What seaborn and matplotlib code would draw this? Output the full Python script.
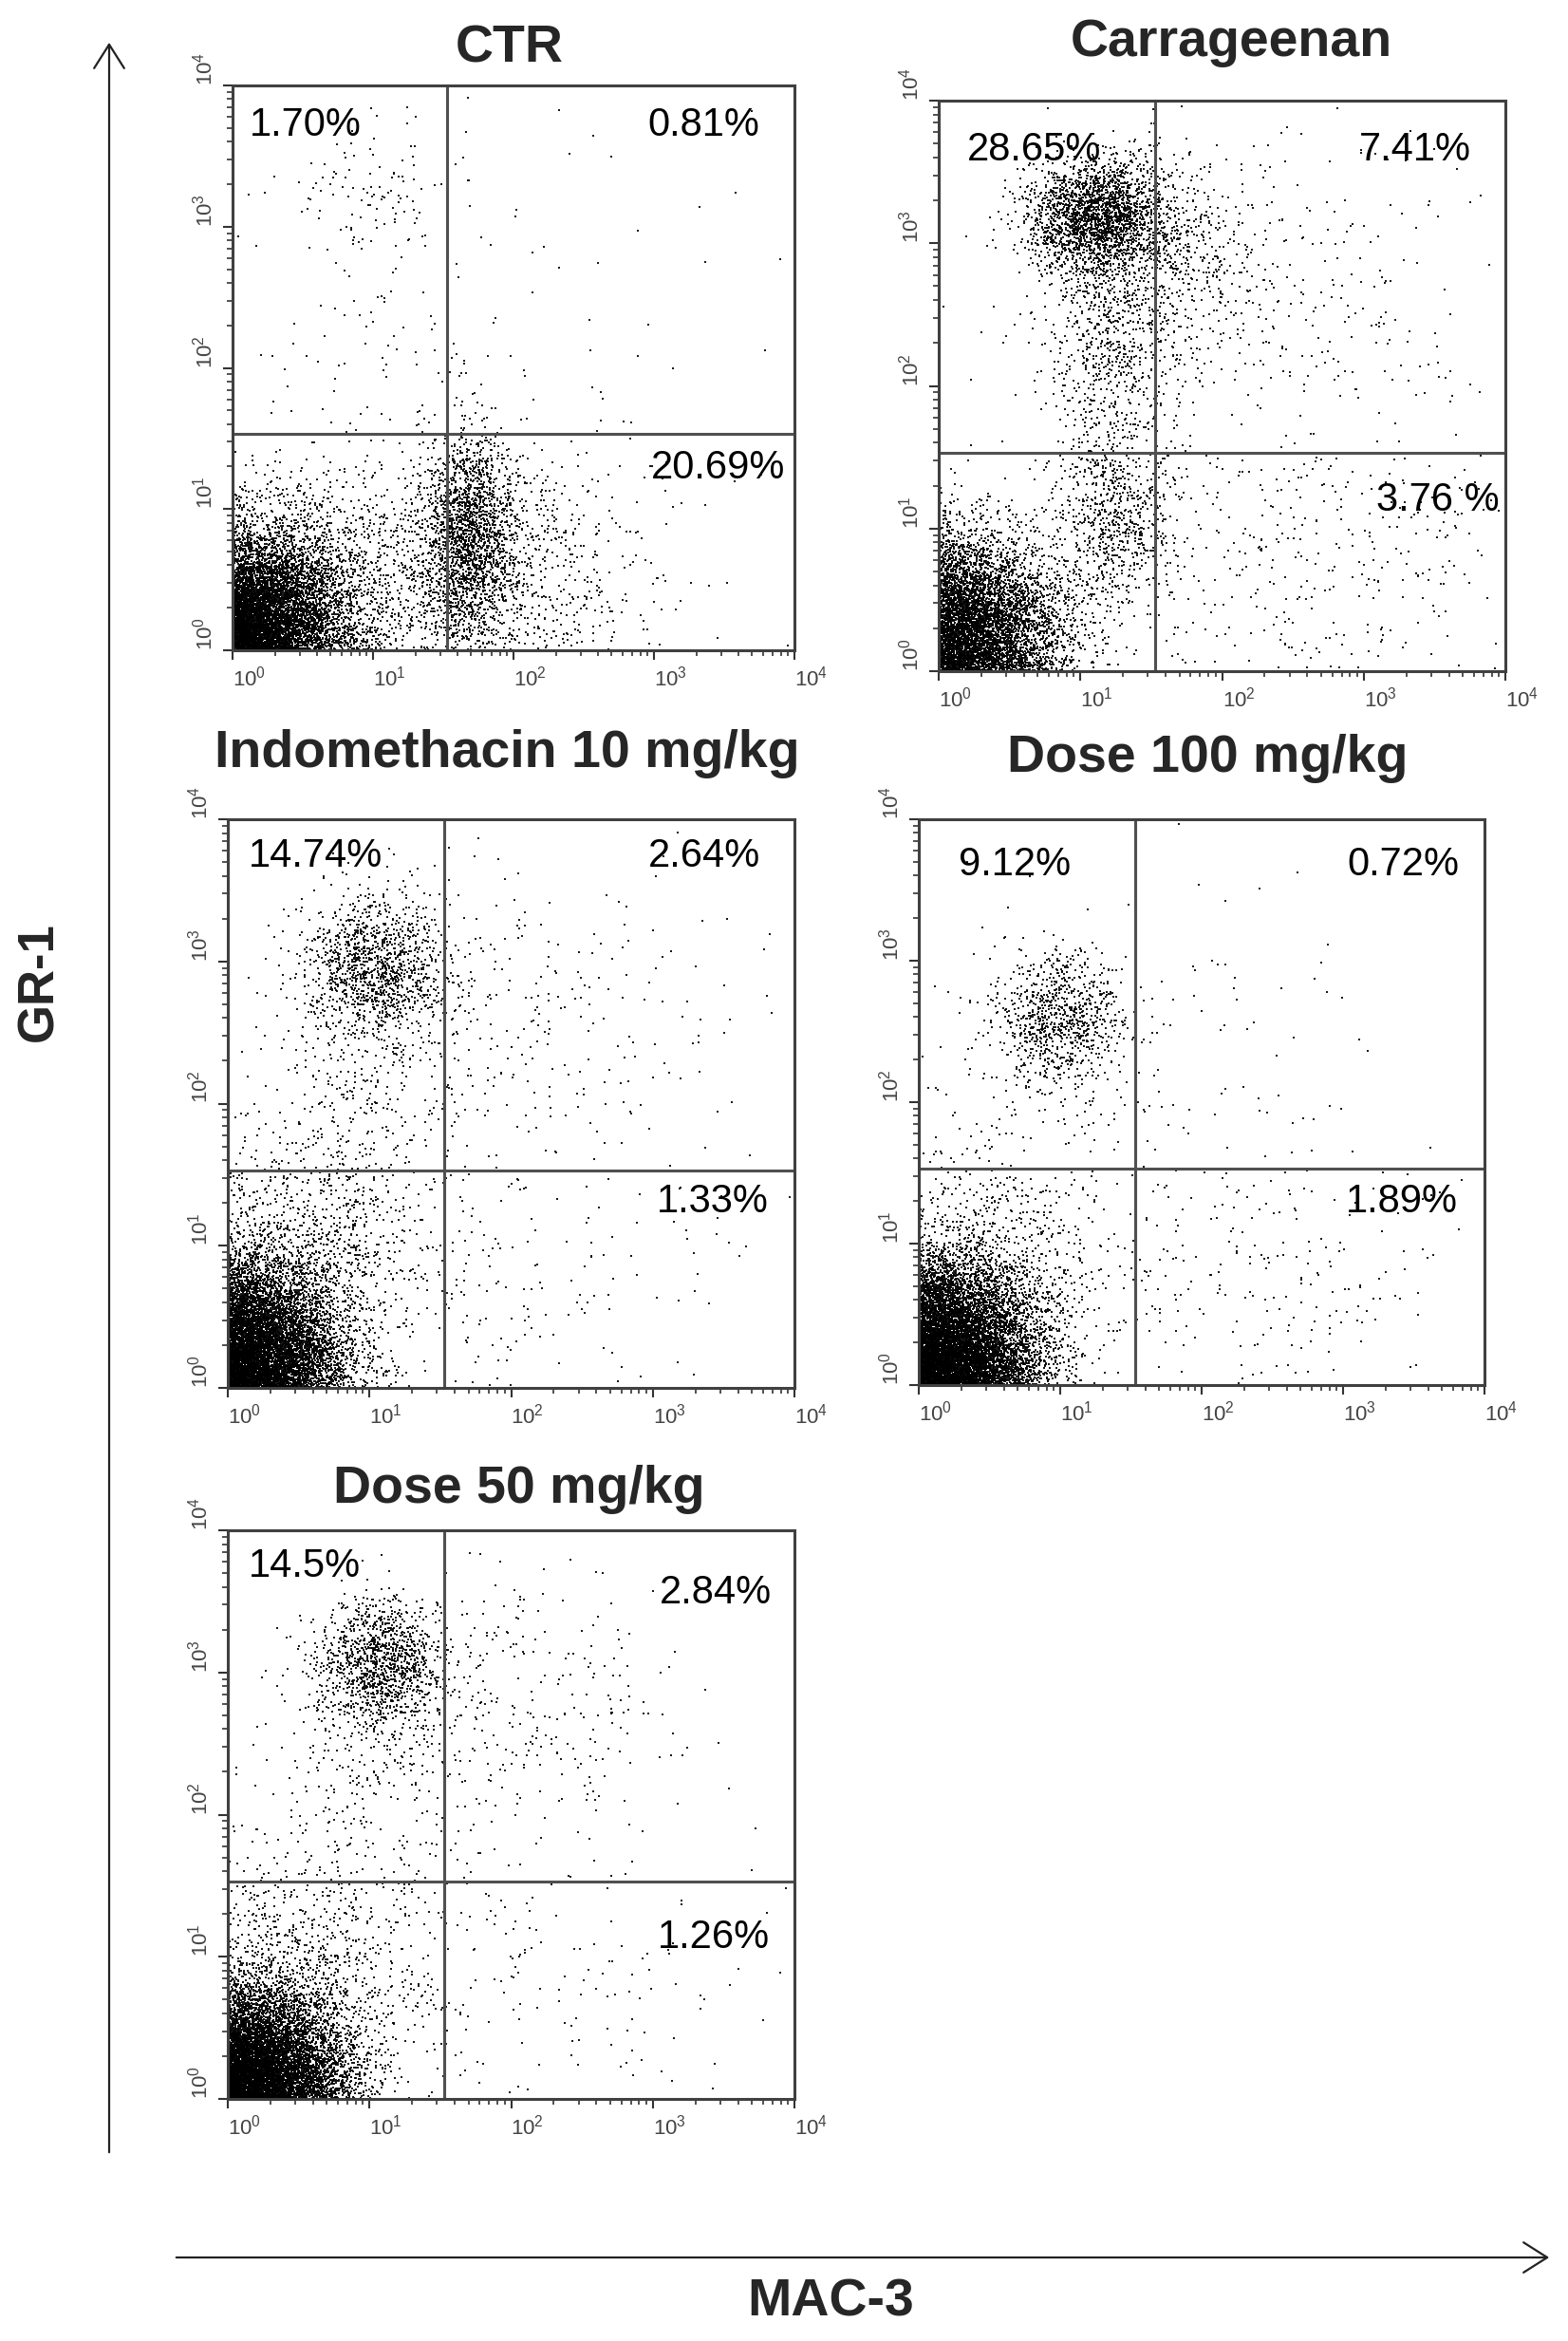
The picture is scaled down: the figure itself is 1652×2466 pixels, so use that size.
import numpy as np
import pandas as pd
import matplotlib
matplotlib.use('Agg')
import matplotlib.pyplot as plt
import seaborn as sns
from matplotlib.patches import FancyArrowPatch
from matplotlib.ticker import LogLocator, FixedLocator, NullFormatter

sns.set_style('white')
plt.rcParams['font.family'] = ['Liberation Sans', 'DejaVu Sans']
plt.rcParams['mathtext.fontset'] = 'custom'
plt.rcParams['mathtext.rm'] = 'Liberation Sans'

W, H = 1652, 2466
DPI = 100

# --- данные ---
titles = ['CTR', 'Carrageenan', 'Indomethacin 10 mg/kg', 'Dose 100 mg/kg', 'Dose 50 mg/kg']

# проценты квадрантов: [UL, UR, LR], LL = остаток
pct_ctr = [1.70, 0.81, 20.69]
pct_carr = [28.65, 7.41, 3.76]
pct_indo = [14.74, 2.64, 1.33]
pct_d100 = [9.12, 0.72, 1.89]
pct_d50 = [14.5, 2.84, 1.26]

lab_ctr = ['1.70%', '0.81%', '20.69%']
lab_carr = ['28.65%', '7.41%', '3.76 %']
lab_indo = ['14.74%', '2.64%', '1.33%']
lab_d100 = ['9.12%', '0.72%', '1.89%']
lab_d50 = ['14.5%', '2.84%', '1.26%']

# популяции (вес, центр MAC-3, центр GR-1, разброс x, разброс y) в декадах log10
pop_ctr = [(60, 0.15, 0.20, 0.35, 0.32), (10, 0.70, 0.50, 0.50, 0.40),
           (18, 1.68, 0.80, 0.17, 0.38), (5, 2.10, 0.60, 0.50, 0.45),
           (1.2, 0.95, 3.25, 0.30, 0.20), (1.0, 1.00, 2.30, 0.35, 0.60),
           (1.5, 2.00, 2.00, 1.20, 1.20)]
pop_carr = [(28, 1.12, 3.18, 0.24, 0.20), (8, 1.20, 2.30, 0.25, 0.45),
            (5, 1.70, 2.90, 0.30, 0.35), (3, 2.50, 2.70, 0.70, 0.60),
            (50, 0.20, 0.30, 0.35, 0.33), (6, 1.20, 1.10, 0.20, 0.35),
            (2, 2.40, 1.00, 1.00, 0.60)]
pop_indo = [(12, 1.05, 2.95, 0.25, 0.25), (3, 1.00, 2.20, 0.35, 0.45),
            (2, 2.10, 2.60, 0.70, 0.60), (70, 0.18, 0.25, 0.33, 0.33),
            (8, 0.60, 1.00, 0.45, 0.45), (1, 2.20, 0.90, 0.80, 0.55)]
pop_d100 = [(8, 1.00, 2.60, 0.22, 0.22), (1.5, 0.90, 2.30, 0.40, 0.40),
            (1, 2.00, 2.30, 0.70, 0.60), (80, 0.20, 0.25, 0.33, 0.32),
            (6, 0.60, 0.90, 0.40, 0.45), (2, 2.30, 0.90, 0.90, 0.60)]
pop_d50 = [(12, 1.08, 3.05, 0.22, 0.22), (3, 1.00, 2.40, 0.40, 0.45),
           (3, 2.00, 2.70, 0.60, 0.55), (72, 0.20, 0.20, 0.33, 0.30),
           (8, 0.60, 0.90, 0.45, 0.45), (1.3, 2.20, 0.90, 0.80, 0.55)]

GATE_LOG = 1.53          # положение квадрантных линий (декады)
N_EVENTS = 11000

# --- раскладка (пиксели) ---
rects = [(245, 90, 837, 685), (989, 106, 1586, 707), (240, 863, 837, 1462),
         (968, 863, 1564, 1459), (240, 1612, 837, 2211)]
title_pos = [(537, 66), (1297, 59), (534, 808), (1272, 813), (547, 1583)]
lab_pos = [
    [(0.030, 0.930, 'left'), (0.938, 0.930, 'right'), (0.984, 0.322, 'right')],
    [(0.050, 0.914, 'left'), (0.940, 0.914, 'right'), (0.990, 0.300, 'right')],
    [(0.037, 0.935, 'left'), (0.940, 0.935, 'right'), (0.955, 0.328, 'right')],
    [(0.070, 0.920, 'left'), (0.955, 0.920, 'right'), (0.953, 0.324, 'right')],
    [(0.036, 0.936, 'left'), (0.960, 0.890, 'right'), (0.957, 0.284, 'right')],
]

pcts = [pct_ctr, pct_carr, pct_indo, pct_d100, pct_d50]
labels = [lab_ctr, lab_carr, lab_indo, lab_d100, lab_d50]
pops = [pop_ctr, pop_carr, pop_indo, pop_d100, pop_d50]


def make_events(pop, pct, seed):
    # число событий в каждом квадранте задаётся процентами с рисунка
    rng = np.random.default_rng(seed)
    pop = np.array(pop, dtype=float)
    w = pop[:, 0] / pop[:, 0].sum()
    shares = list(pct) + [100 - sum(pct)]  # UL, UR, LR, LL
    xs, ys = [], []
    for q, p in enumerate(shares):
        need = int(round(N_EVENTS * p / 100))
        bx, by, have = [], [], 0
        while have < need:
            k = rng.choice(len(w), size=40000, p=w)
            x = np.abs(rng.normal(pop[k, 1], pop[k, 3]))
            y = np.abs(rng.normal(pop[k, 2], pop[k, 4]))
            right = x >= GATE_LOG
            up = y >= GATE_LOG
            m = [~right & up, right & up, right & ~up, ~right & ~up][q]
            m &= (x < 3.97) & (y < 3.97)
            bx.append(x[m]); by.append(y[m]); have += m.sum()
        xs.append(np.concatenate(bx)[:need])
        ys.append(np.concatenate(by)[:need])
    return pd.DataFrame({'mac3': 10 ** np.concatenate(xs), 'gr1': 10 ** np.concatenate(ys)})


fig = plt.figure(figsize=(W / DPI, H / DPI), dpi=DPI)
gate = 10 ** GATE_LOG
tick_vals = [1, 10, 100, 1000, 10000]
tick_txt = [r'$\mathregular{10^{%d}}$' % i for i in range(5)]

for i in range(5):
    l, t, r, b = rects[i]
    ax = fig.add_axes([l / W, 1 - b / H, (r - l) / W, (b - t) / H])
    df = make_events(pops[i], pcts[i], 7 + i)
    sns.scatterplot(data=df, x='mac3', y='gr1', ax=ax, s=4, marker='s',
                    color='black', linewidth=0, alpha=0.9, rasterized=True)
    ax.set_xscale('log')
    ax.set_yscale('log')
    ax.set_xlim(1, 10000)
    ax.set_ylim(1, 10000)
    ax.axvline(gate, color='#505050', lw=2.2)
    ax.axhline(gate, color='#505050', lw=2.2)
    ax.set_xlabel('')
    ax.set_ylabel('')
    for sp in ax.spines.values():
        sp.set_color('#404040')
        sp.set_linewidth(2.2)
    ax.xaxis.set_major_locator(FixedLocator(tick_vals))
    ax.yaxis.set_major_locator(FixedLocator(tick_vals))
    ax.xaxis.set_minor_locator(LogLocator(base=10, subs=np.arange(2, 10)))
    ax.yaxis.set_minor_locator(LogLocator(base=10, subs=np.arange(2, 10)))
    ax.xaxis.set_minor_formatter(NullFormatter())
    ax.yaxis.set_minor_formatter(NullFormatter())
    ax.set_xticklabels(tick_txt, ha='left', fontsize=16, color='#444444')
    ax.set_yticklabels(tick_txt, rotation=90, va='bottom', fontsize=16, color='#444444')
    ax.tick_params(which='major', direction='out', length=7, width=1.5, color='#333333', pad=5)
    ax.tick_params(which='minor', direction='out', length=4, width=1.2, color='#333333')
    ax.tick_params(axis='x', which='both', bottom=True)
    ax.tick_params(axis='y', which='both', left=True)
    for (px, py, ha), txt in zip(lab_pos[i], labels[i]):
        ax.text(px, py, txt, transform=ax.transAxes, ha=ha, va='center',
                fontsize=30, color='black')
    tx, ty = title_pos[i]
    fig.text(tx / W, 1 - ty / H, titles[i], ha='center', va='baseline',
             fontsize=40, fontweight='bold')

# общие оси со стрелками
arr_y = FancyArrowPatch((115 / W, 1 - 2270 / H), (115 / W, 1 - 42 / H), transform=fig.transFigure,
                        arrowstyle='->,head_length=0.6,head_width=0.38', mutation_scale=30,
                        lw=1.6, color='#222222')
arr_x = FancyArrowPatch((183 / W, 1 - 2378 / H), (1635 / W, 1 - 2378 / H), transform=fig.transFigure,
                        arrowstyle='->,head_length=0.6,head_width=0.38', mutation_scale=30,
                        lw=1.6, color='#222222')
fig.patches.extend([arr_y, arr_x])
fig.text(41 / W, 1 - 1034 / H, 'GR-1', rotation=90, ha='center', va='center',
         fontsize=38, fontweight='bold')
fig.text(875 / W, 1 - 2425 / H, 'MAC-3', ha='center', va='center',
         fontsize=40, fontweight='bold')

fig.savefig('out.png', dpi=DPI)
